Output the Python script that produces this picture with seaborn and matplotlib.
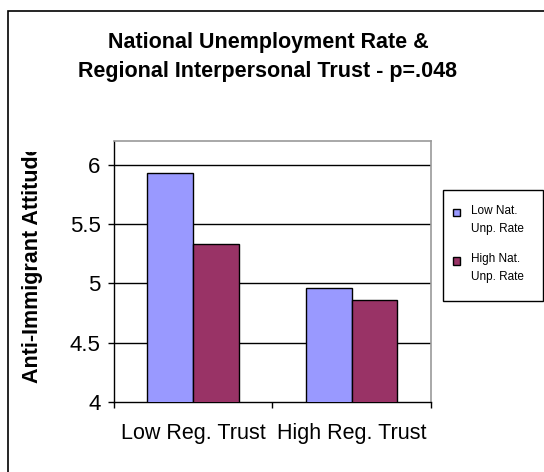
import matplotlib
matplotlib.use("Agg")
import matplotlib.pyplot as plt
from matplotlib.patches import Rectangle
from matplotlib.transforms import Bbox
from matplotlib.legend_handler import HandlerPatch
import seaborn as sns
import pandas as pd

# Group means of anti-immigrant attitudes
trust_groups = ["Low Reg. Trust", "High Reg. Trust"]
unemployment_levels = ["Low Nat.\nUnp. Rate", "High Nat.\nUnp. Rate"]
low_unp_means = [5.93, 4.96]
high_unp_means = [5.33, 4.86]
y_ticks = [4, 4.5, 5, 5.5, 6]
y_tick_labels = ["4", "4.5", "5", "5.5", "6"]

df = pd.DataFrame({
    "trust": trust_groups * 2,
    "unemployment": [unemployment_levels[0]] * 2 + [unemployment_levels[1]] * 2,
    "attitude": low_unp_means + high_unp_means,
})

sns.set_theme(style="white")
plt.rcParams["font.family"] = ["Liberation Sans", "DejaVu Sans"]
plt.rcParams["text.color"] = "black"
plt.rcParams["xtick.color"] = "black"
plt.rcParams["ytick.color"] = "black"
plt.rcParams["xtick.labelcolor"] = "black"
plt.rcParams["ytick.labelcolor"] = "black"

W, H = 544, 472
fig = plt.figure(figsize=(W / 100, H / 100), dpi=100)
fig.patch.set_facecolor("white")

def fx(px):
    return px / W

def fy(py):
    return 1 - py / H

ax = fig.add_axes([fx(113.7), fy(402), fx(431) - fx(113.7), fy(141) - fy(402)])

sns.barplot(
    data=df, x="trust", y="attitude", hue="unemployment",
    order=trust_groups, hue_order=unemployment_levels,
    palette=["#9999FF", "#993366"], width=0.575, gap=0,
    edgecolor="black", linewidth=1.0, saturation=1, ax=ax,
    legend=True, zorder=3,
)

ax.set_ylim(4, 6.2)
ax.set_xlim(-0.5, 1.5)
ax.set_yticks(y_ticks)
ax.set_yticklabels(y_tick_labels, fontsize=16, color="black")
ax.set_xticks([0, 1])
ax.set_xticklabels(trust_groups, fontsize=15.5, color="black")
ax.set_xticks([-0.5, 0.5, 1.5], minor=True)
ax.tick_params(axis="x", which="major", length=0, pad=15)
ax.tick_params(axis="x", which="minor", length=4.5, width=1, color="black", direction="out", bottom=True)
ax.tick_params(axis="y", which="major", length=4.5, width=1, color="black", direction="out", left=True, pad=5)
ax.set_xlabel("")
ax.set_ylabel("")

for yv in y_ticks[1:]:
    ax.axhline(yv, color="black", lw=1.0, zorder=1)

for side in ("left", "bottom"):
    ax.spines[side].set_color("black")
    ax.spines[side].set_linewidth(1.0)
for side in ("top", "right"):
    ax.spines[side].set_color("#9a9a9a")
    ax.spines[side].set_linewidth(1.2)


def square_on_first_line(legend, orig_handle, xdescent, ydescent, width, height, fontsize):
    # small swatch lifted to sit beside the first line of a two-line label
    return Rectangle((-xdescent, -ydescent + 5.6), width, height)


# Legend at the right of the plot area
handles, labels = ax.get_legend_handles_labels()
ax.legend_.remove()
leg = fig.legend(
    handles, labels, loc="upper left", bbox_to_anchor=(fx(453), fy(205)),
    fontsize=8.5, frameon=False,
    handlelength=0.6, handleheight=0.6, handletextpad=0.9,
    labelspacing=1.6, borderpad=0, borderaxespad=0,
    handler_map={h: HandlerPatch(patch_func=square_on_first_line) for h in handles},
)
for t in leg.get_texts():
    t.set_linespacing(1.62)
    t.set_color("black")
fig.patches.append(Rectangle((fx(443), fy(301)), fx(543) - fx(443), fy(190) - fy(301),
                             transform=fig.transFigure, fill=False, edgecolor="black", lw=1.0))

# Title
fig.text(fx(268), fy(57), "National Unemployment Rate &\nRegional Interpersonal Trust - p=.048",
         ha="center", va="center", fontsize=15.5, fontweight="bold", linespacing=1.5,
         color="black")

# Y axis label, cut off at the top of the chart area
ylab = fig.text(fx(33), fy(383), "Anti-Immigrant Attitudes", rotation=90,
                ha="center", va="bottom", fontsize=15.5, fontweight="bold", color="black")
ylab.set_clip_box(Bbox.from_extents(0, 0, W, H - 152))
ylab.set_clip_on(True)

# Chart area border
fig.patches.append(Rectangle((fx(7.5), -0.2), 1.5, fy(11) + 0.2, transform=fig.transFigure,
                             fill=False, edgecolor="black", lw=1.2))

fig.savefig("out.png", dpi=100)
